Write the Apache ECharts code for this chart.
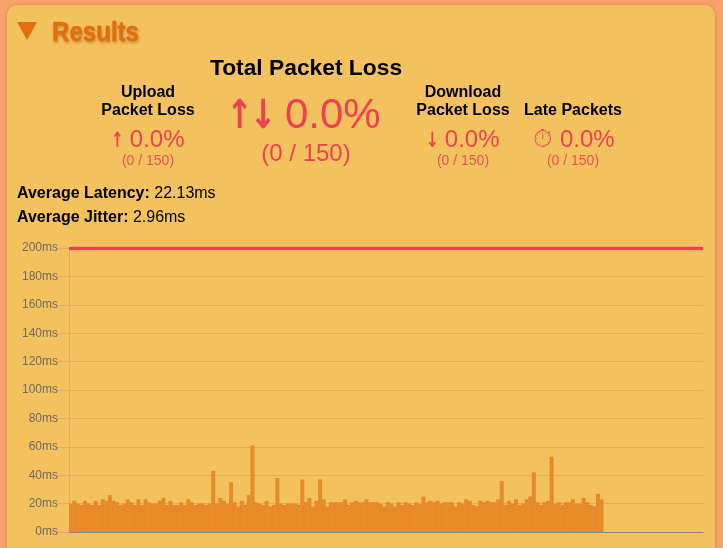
<!DOCTYPE html>
<html><head><meta charset="utf-8">
<style>
html,body{margin:0;padding:0;width:723px;height:548px;overflow:hidden;background:#f6a26b;font-family:"Liberation Sans",Arial,sans-serif}
#panel{position:absolute;left:7px;top:5px;width:708px;height:560px;background:#f4c15f;border-radius:10px;box-shadow:0 0 3px rgba(180,90,40,.45)}
.t{position:absolute;white-space:nowrap;text-align:center;transform:translateX(-50%);color:#000}
.h{font-weight:bold;font-size:16px;line-height:18px}
.r{color:#ec4250}
.s{opacity:.88}
.a{display:inline-block;font-family:"DejaVu Sans";font-weight:bold;font-size:21px;transform:scaleX(.72);margin:0 -3px}
.A{display:inline-block;font-family:"DejaVu Sans";font-weight:bold;font-size:40px;letter-spacing:-4px;transform:scaleX(.8);margin:0 -6px 0 -7px}
.w{font-family:"DejaVu Sans";font-size:25px;opacity:.85}
.l{position:absolute;left:17px;font-size:16px;color:#000;white-space:nowrap}
#tri{position:absolute;left:17px;top:22px;width:0;height:0;border-left:10.5px solid transparent;border-right:10.5px solid transparent;border-top:18px solid #e26e0e}
#res{position:absolute;left:52px;top:16px;font-family:"Liberation Sans",sans-serif;font-weight:bold;font-size:28px;line-height:32px;color:#e26e0e;-webkit-text-stroke:.5px #e26e0e;text-shadow:1px 2px 3px rgba(150,90,30,.55);transform-origin:0 50%;transform:scaleX(.86)}
#chart{position:absolute;left:0;top:0;width:723px;height:548px}
</style></head><body>
<div id="panel"></div>
<div id="chart"></div>
<div id="tri"></div><div id="res">Results</div>
<div class="t" style="left:306px;top:54px;font-weight:bold;font-size:22.8px;line-height:26px">Total Packet Loss</div>
<div class="t h" style="left:148px;top:83px">Upload<br>Packet Loss</div>
<div class="t r" style="left:304px;top:89px;font-size:42px;line-height:50px"><span class="A">↑↓</span> 0.0%</div>
<div class="t r" style="left:306px;top:139px;font-size:24px;line-height:28px">(0 / 150)</div>
<div class="t h" style="left:463px;top:83px">Download<br>Packet Loss</div>
<div class="t h" style="left:573px;top:101px">Late Packets</div>
<div class="t r" style="left:148px;top:125px;font-size:24px;line-height:28px"><span class="a">↑</span> 0.0%</div>
<div class="t r s" style="left:148px;top:152px;font-size:14px;line-height:16px">(0 / 150)</div>
<div class="t r" style="left:463px;top:125px;font-size:24px;line-height:28px"><span class="a">↓</span> 0.0%</div>
<div class="t r s" style="left:463px;top:152px;font-size:14px;line-height:16px">(0 / 150)</div>
<div class="t r" style="left:574px;top:125px;font-size:24px;line-height:28px"><span class="w">⏱</span> 0.0%</div>
<div class="t r s" style="left:573px;top:152px;font-size:14px;line-height:16px">(0 / 150)</div>
<div class="l" style="top:184px"><b>Average Latency:</b> 22.13ms</div>
<div class="l" style="top:208px"><b>Average Jitter:</b> 2.96ms</div>
<script src="https://cdn.jsdelivr.net/npm/echarts@6/dist/echarts.min.js"></script>
<script>
const latency = [20,22,20,19,22,20,19,22,19,23,22,26,22,21,19,20,23,21,19,23,19,23,21,20,20,22,24,19,22,19,19,21,19,23,21,19,20,
20,19,20,43,20,24,22,20,35,21,18,22,19,26,61,21,20,19,22,18,19,38,20,19,20,20,20,19,37,21,24,18,22,37,23,18,21,21,21,21,23,19,21,22,21,21,23,21,21,21,20,18,21,20,18,21,
19,21,20,19,21,20,25,21,22,21,22,20,21,21,21,18,21,20,23,22,19,18,22,21,22,21,21,23,36,19,22,20,23,19,20,23,25,42,21,19,21,22,53,20,21,19,21,21,23,20,20,24,21,19,18,27,23];
const slotCount = 178;
const slots = Array.from({length: slotCount}, (_, i) => String(i + 1));
const limitMs = 200;
const tickStep = 20;
const chart = echarts.init(document.getElementById('chart'), null, {renderer:'canvas'});
chart.setOption({
  animation:false,
  grid:{left:69,right:20,top:248,bottom:16,containLabel:false},
  xAxis:{type:'category',data:slots,boundaryGap:true,
    axisLine:{show:true,lineStyle:{color:'#8f8a62',width:1}},
    axisTick:{show:false},axisLabel:{show:false},splitLine:{show:false}},
  yAxis:{type:'value',min:0,max:limitMs,interval:tickStep,
    axisLine:{show:true,lineStyle:{color:'#e0ae5c'}},
    axisTick:{show:true,length:11,lineStyle:{color:'#e0ae5c'}},
    axisLabel:{formatter:'{value}ms',fontFamily:'Liberation Sans',fontSize:12,color:'#6e6c66',margin:11,padding:[0,0,2,0],align:'right'},
    splitLine:{show:true,lineStyle:{color:'#e0ae5c',width:1}}},
  series:[{type:'bar',data:latency,barWidth:4,barGap:0,
    itemStyle:{color:'#e98a2a',borderWidth:0},
    markLine:{silent:true,symbol:'none',label:{show:false},
      lineStyle:{color:'#ec4250',width:3,type:'solid',shadowColor:'rgba(236,66,80,.45)',shadowBlur:2},data:[{yAxis:limitMs}]}}]
});
</script>
</body></html>
